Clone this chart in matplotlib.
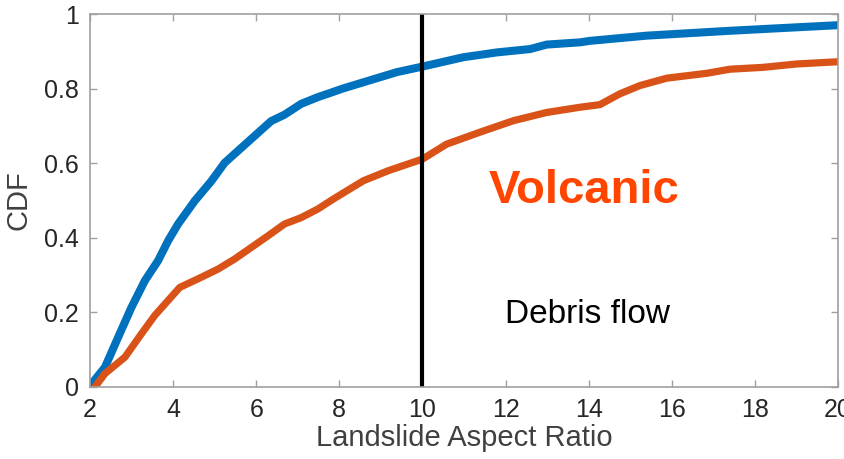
import matplotlib
matplotlib.use("Agg")
import matplotlib.pyplot as plt

plt.rcParams['font.family'] = ['Liberation Sans', 'DejaVu Sans']

# Blue CDF curve
blue_x = [2.0, 2.05, 2.36, 2.68, 3.0, 3.32, 3.64, 3.88, 4.12, 4.52, 4.92, 5.24, 5.64,
          6.04, 6.36, 6.68, 7.08, 7.48, 7.77, 8.08, 8.58, 9.38, 10.0, 10.98, 11.79,
          12.59, 12.99, 13.79, 14.03, 15.4, 17.4, 18.6, 20.0]
blue_y = [0.0, 0.01, 0.053, 0.134, 0.214, 0.285, 0.339, 0.392, 0.437, 0.499, 0.552, 0.601, 0.641,
          0.681, 0.713, 0.730, 0.759, 0.777, 0.788, 0.800, 0.817, 0.844, 0.859, 0.884, 0.897,
          0.906, 0.918, 0.924, 0.928, 0.942, 0.955, 0.962, 0.970]

# Orange CDF curve
orange_x = [2.12, 2.36, 2.84, 3.24, 3.56, 3.88, 4.16, 4.6, 5.08, 5.48, 5.88, 6.28, 6.68,
            7.08, 7.48, 7.8, 8.18, 8.58, 9.18, 10.0, 10.58, 11.38, 12.19, 12.99, 13.79,
            14.27, 14.75, 15.23, 15.88, 16.84, 17.4, 18.2, 19.0, 20.0]
orange_y = [0.0, 0.036, 0.080, 0.143, 0.192, 0.232, 0.267, 0.290, 0.316, 0.343, 0.374, 0.405, 0.437,
            0.454, 0.477, 0.500, 0.526, 0.553, 0.580, 0.611, 0.651, 0.683, 0.714, 0.736, 0.750,
            0.757, 0.786, 0.808, 0.828, 0.841, 0.852, 0.857, 0.866, 0.872]

threshold_x = 10
x_ticks = [2, 4, 6, 8, 10, 12, 14, 16, 18, 20]
y_ticks = [0, 0.2, 0.4, 0.6, 0.8, 1]
y_ticklabels = ['0', '0.2', '0.4', '0.6', '0.8', '1']

fig = plt.figure(figsize=(8.45, 4.59), dpi=100)
ax = fig.add_axes([90/845, 72/459, 748/845, 373/459])

ax.plot(blue_x, blue_y, color='#0072BD', lw=5.8, solid_capstyle='round', solid_joinstyle='round')
ax.plot(orange_x, orange_y, color='#D95319', lw=5.2, solid_capstyle='round', solid_joinstyle='round')
ax.axvline(threshold_x, color='black', lw=3)

ax.text(13.89, 0.494, 'Volcanic', color='#FF4500', fontsize=34, fontweight='bold',
        ha='center', va='baseline')
ax.text(13.96, 0.172, 'Debris flow', color='black', fontsize=24,
        ha='center', va='baseline')

ax.set_xlim(2, 20)
ax.set_ylim(0, 1)
ax.set_xticks(x_ticks)
ax.set_xticklabels([str(t) for t in x_ticks])
ax.set_yticks(y_ticks)
ax.set_yticklabels(y_ticklabels)

for s in ax.spines.values():
    s.set_color('#a0a0a0')
    s.set_linewidth(1.2)
ax.tick_params(direction='in', length=5, width=1, color='#a0a0a0',
               top=True, right=True, labelsize=18, labelcolor='#262626', pad=8)

ax.set_xlabel('Landslide Aspect Ratio', fontsize=21, color='#404040', labelpad=1)
ax.set_ylabel('CDF', fontsize=21, color='#404040', labelpad=8)

fig.savefig('out.png', dpi=100)
